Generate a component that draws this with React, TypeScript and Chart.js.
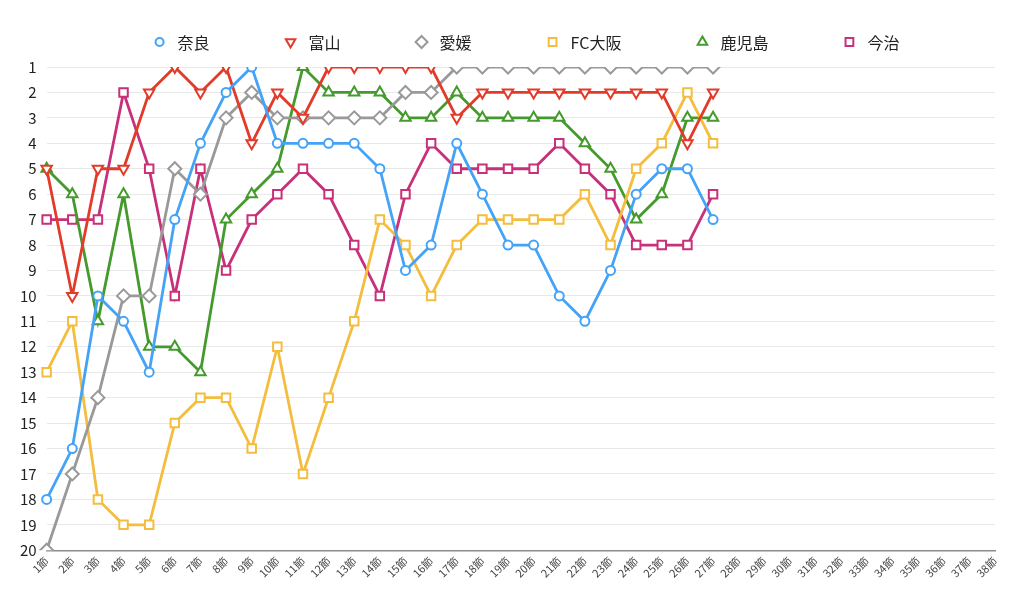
import React, { useEffect, useRef } from 'react';
import { Chart, registerables } from 'chart.js';

Chart.register(...registerables);

const FONT = '"Noto Sans CJK JP", "Noto Sans", sans-serif';

const rounds = [
  '1節', '2節', '3節', '4節', '5節', '6節', '7節', '8節', '9節', '10節',
  '11節', '12節', '13節', '14節', '15節', '16節', '17節', '18節', '19節', '20節',
  '21節', '22節', '23節', '24節', '25節', '26節', '27節', '28節', '29節', '30節',
  '31節', '32節', '33節', '34節', '35節', '36節', '37節', '38節',
];

const nara = [18, 16, 10, 11, 13, 7, 4, 2, 1, 4, 4, 4, 4, 5, 9, 8, 4, 6, 8, 8, 10, 11, 9, 6, 5, 5, 7];
const toyama = [5, 10, 5, 5, 2, 1, 2, 1, 4, 2, 3, 1, 1, 1, 1, 1, 3, 2, 2, 2, 2, 2, 2, 2, 2, 4, 2];
const ehime = [20, 17, 14, 10, 10, 5, 6, 3, 2, 3, 3, 3, 3, 3, 2, 2, 1, 1, 1, 1, 1, 1, 1, 1, 1, 1, 1];
const fcOsaka = [13, 11, 18, 19, 19, 15, 14, 14, 16, 12, 17, 14, 11, 7, 8, 10, 8, 7, 7, 7, 7, 6, 8, 5, 4, 2, 4];
const kagoshima = [5, 6, 11, 6, 12, 12, 13, 7, 6, 5, 1, 2, 2, 2, 3, 3, 2, 3, 3, 3, 3, 4, 5, 7, 6, 3, 3];
const imabari = [7, 7, 7, 2, 5, 10, 5, 9, 7, 6, 5, 6, 8, 10, 6, 4, 5, 5, 5, 5, 4, 5, 6, 8, 8, 8, 6];

const seriesNames = ['奈良', '富山', '愛媛', 'FC大阪', '鹿児島', '今治'];
const seriesColors = ['#45a3f7', '#e23b2a', '#999999', '#f4bd3e', '#449a2c', '#c8307a'];
const seriesStyles = ['circle', 'triangle', 'rectRot', 'rect', 'triangle', 'rect'];
const seriesRotations = [0, 180, 0, 0, 0, 0];
const seriesRadius = [4.5, 6, 6.5, 6, 6, 6];
const seriesData = [nara, toyama, ehime, fcOsaka, kagoshima, imabari];

function drawMarker(ctx: CanvasRenderingContext2D, style: string, rot: number, x: number, y: number, r: number) {
  ctx.beginPath();
  if (style === 'circle') {
    ctx.arc(x, y, r, 0, Math.PI * 2);
  } else if (style === 'triangle') {
    let rad = (rot * Math.PI) / 180;
    ctx.moveTo(x + Math.sin(rad) * r, y - Math.cos(rad) * r);
    rad += (2 * Math.PI) / 3;
    ctx.lineTo(x + Math.sin(rad) * r, y - Math.cos(rad) * r);
    rad += (2 * Math.PI) / 3;
    ctx.lineTo(x + Math.sin(rad) * r, y - Math.cos(rad) * r);
    ctx.closePath();
  } else if (style === 'rectRot') {
    ctx.moveTo(x, y - r);
    ctx.lineTo(x + r, y);
    ctx.lineTo(x, y + r);
    ctx.lineTo(x - r, y);
    ctx.closePath();
  } else {
    const s = r * Math.SQRT1_2;
    ctx.rect(x - s, y - s, 2 * s, 2 * s);
  }
  ctx.fillStyle = '#ffffff';
  ctx.fill();
  ctx.stroke();
}

const legendPlugin = {
  id: 'topLegend',
  afterDraw(chart: any) {
    const ctx: CanvasRenderingContext2D = chart.ctx;
    ctx.save();
    ctx.font = `16px ${FONT}`;
    const textOffset = 18;
    const gap = 81;
    const widths = seriesNames.map((n) => ctx.measureText(n).width);
    let total = 5;
    widths.forEach((w, i) => {
      total += textOffset + w + (i < widths.length - 1 ? gap : 0);
    });
    const centerX = 527;
    const y = 42;
    let x = centerX - total / 2 + 5;
    seriesNames.forEach((name, i) => {
      ctx.strokeStyle = seriesColors[i];
      ctx.lineWidth = 2;
      const r = seriesStyles[i] === 'circle' ? 4 : seriesStyles[i] === 'rectRot' ? 6 : 5.5;
      drawMarker(ctx, seriesStyles[i], seriesRotations[i], x, y, r);
      ctx.fillStyle = '#222222';
      ctx.textBaseline = 'middle';
      ctx.textAlign = 'left';
      ctx.fillText(name, x + textOffset, y + 1);
      x += textOffset + widths[i] + gap;
    });
    ctx.restore();
  },
};

export default function App() {
  const ref = useRef<HTMLCanvasElement | null>(null);

  useEffect(() => {
    document.body.style.margin = '0';
    const canvas = ref.current;
    if (!canvas) return;
    const chart = new Chart(canvas, {
      type: 'line',
      data: {
        labels: rounds,
        datasets: seriesNames.map((name, i) => ({
          label: name,
          data: seriesData[i],
          borderColor: seriesColors[i],
          backgroundColor: '#ffffff',
          pointBackgroundColor: '#ffffff',
          pointBorderColor: seriesColors[i],
          pointStyle: seriesStyles[i] as any,
          rotation: seriesRotations[i],
          pointRadius: seriesRadius[i],
          pointBorderWidth: 2,
          borderWidth: 2.8,
          tension: 0,
          fill: false,
        })),
      },
      options: {
        animation: false,
        responsive: false,
        maintainAspectRatio: false,
        layout: { padding: { top: 67, left: 10, right: 29, bottom: 20 } },
        plugins: {
          legend: { display: false },
          tooltip: { enabled: false },
        },
        scales: {
          x: {
            grid: { display: false, drawTicks: false },
            border: { display: true, color: '#8c8c8c', width: 1.5 },
            ticks: {
              autoSkip: false,
              maxRotation: 45,
              minRotation: 45,
              padding: 4,
              color: '#444444',
              font: { size: 11, family: FONT },
            },
          },
          y: {
            reverse: true,
            min: 1,
            max: 20,
            ticks: {
              stepSize: 1,
              padding: 10,
              color: '#222222',
              font: { size: 15, family: FONT },
            },
            grid: { color: '#e8e8e8', drawTicks: false, lineWidth: 1 },
            border: { display: false },
          },
        },
      },
      plugins: [legendPlugin],
    });
    return () => chart.destroy();
  }, []);

  return <canvas ref={ref} width={1024} height={604} style={{ display: 'block' }} />;
}
